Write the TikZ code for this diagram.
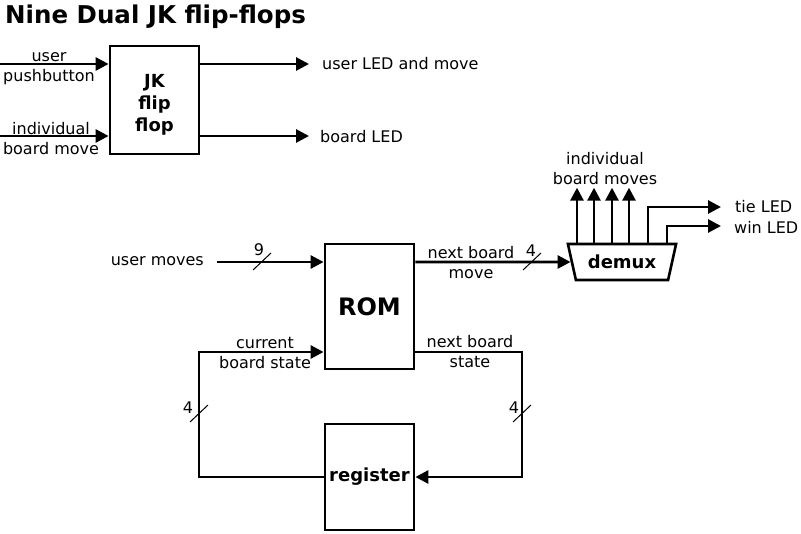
\documentclass[tikz,border=0pt]{standalone}
\usepackage{fontspec}
\setmainfont{DejaVu Sans}
\usetikzlibrary{arrows.meta, positioning, shapes.geometric}

\begin{document}
\begin{tikzpicture}[
  x=1pt, y=-1pt,
  block/.style={rectangle, draw, line width=2.8pt, minimum width=89pt,
    align=center, font=\fontsize{18}{22}\selectfont\bfseries},
  arrow/.style={-{Triangle[length=13pt, width=13pt]}, line width=2.8pt},
  lbl/.style={font=\fontsize{16}{20}\selectfont, align=center, inner sep=0pt},
  bus/.style={line width=1pt}
]
\useasboundingbox (0,0) rectangle (801,534);

% Title
\node[anchor=base west, inner sep=0pt, font=\fontsize{24.5}{28}\selectfont\bfseries] (title) at (5,24) {Nine Dual JK flip-flops};

% Flip-flop part
\node[block, minimum height=108pt,
  label={[font=\fontsize{18}{22}\selectfont\bfseries, align=center, yshift=-5pt]center:{JK\\flip\\flop}}] (jk) at (154.5,100) {};
\coordinate (inA) at (0,64);
\coordinate (inB) at (0,136);
\coordinate (outA) at (309,64);
\coordinate (outB) at (309,136);
\draw[arrow] (inA) -- (jk.west |- inA);
\draw[arrow] (inB) -- (jk.west |- inB);
\draw[arrow] (jk.east |- outA) -- (outA);
\draw[arrow] (jk.east |- outB) -- (outB);
\node[lbl] (push) at (49,69) {user\\pushbutton};
\node[lbl] (indiv) at (51,139) {individual\\board move};
\node[lbl, anchor=west] (uled) at (322,64) {user LED and move};
\node[lbl, anchor=west] (bled) at (320,137) {board LED};

% ROM, demux and register
\node[block, minimum height=125pt, font=\fontsize{24}{28}\selectfont\bfseries] (rom) at (369.5,306.5) {ROM};
\node[block, minimum height=106pt] (reg) at (369.5,477) {\raisebox{-2pt}{register}};
\node[trapezium, draw, line width=2.6pt, shape border rotate=180,
  trapezium left angle=67, trapezium right angle=67, trapezium stretches=true,
  minimum width=109pt, minimum height=36pt, inner sep=0pt,
  font=\fontsize{18}{22}\selectfont\bfseries] (demux) at (622,262) {demux};

% Arrows
\coordinate (umv) at (217,262);
\draw[arrow] (umv) -- (rom.west |- umv);
\draw[arrow] (rom.east |- umv) -- (demux);
\foreach \dx in {-45,-28,-10,7}
  \draw[arrow] ([xshift=\dx pt]demux.north) -- ++(0,-55);
\coordinate (tie) at (721,207);
\coordinate (win) at (721,226);
\draw[arrow] ([xshift=26pt]demux.north) |- (tie);
\draw[arrow] ([xshift=45pt]demux.north) |- (win);
\coordinate (nr) at (522,352);
\coordinate (nl) at (199,352);
\draw[arrow] (rom.east |- nr) -- (nr) |- (reg.east);
\draw[arrow] (reg.west) -| (nl) -- (rom.west |- nl);

% Bus widths
\foreach \p in {(262,262),(532,262),(199,414),(522,414)}
  \draw[bus] \p ++(-9,8) -- ++(18,-17);
\node[lbl] (w9) at (259,250) {9};
\node[lbl] (w4a) at (531,251) {4};
\node[lbl] (w4b) at (188,408) {4};
\node[lbl] (w4c) at (514,408) {4};

% Labels
\node[lbl, anchor=east] (umoves) at (204,261) {user moves};
\node[lbl] (nbm) at (471,263) {next board\\move};
\node[lbl] (cbs) at (265,353) {current\\board state};
\node[lbl] (nbs) at (470,352) {next board\\state};
\node[lbl] (ibm) at (605,169) {individual\\board moves};
\node[lbl, anchor=west] (tiel) at (735,207) {tie LED};
\node[lbl, anchor=west] (winl) at (734,227) {win LED};

\end{tikzpicture}
\end{document}
